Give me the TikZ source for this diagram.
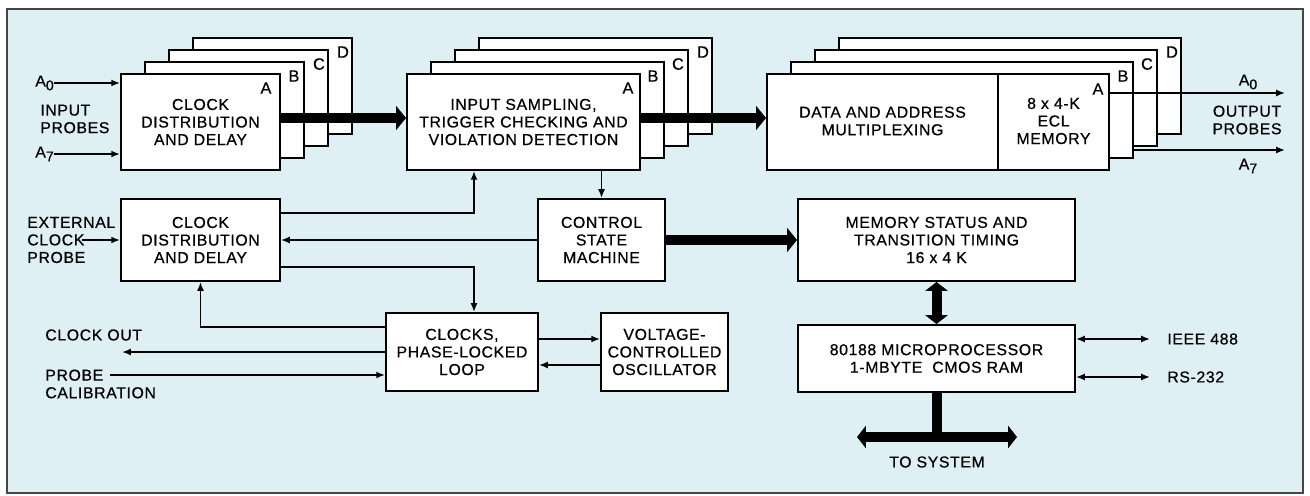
\documentclass[tikz,border=0pt]{standalone}
\usepackage{fontspec}
\setmainfont{Liberation Sans}[LetterSpace=4,FakeBold=0.6]
\usetikzlibrary{arrows.meta,calc}
\definecolor{paper}{RGB}{223,240,244}
\definecolor{framec}{RGB}{70,70,70}
\newcommand{\lowsub}[1]{\raisebox{-0.45ex}{\footnotesize #1}}
\begin{document}
\begin{tikzpicture}[x=0.02cm,y=-0.02cm,
  txt/.style={font=\fontsize{9}{10}\selectfont, align=center, inner sep=0},
  box/.style={draw, fill=white, line width=1.1pt, inner sep=0, txt},
  sz/.style 2 args={minimum width=#1*0.02cm, minimum height=#2*0.02cm},
  tag/.style={font=\fontsize{9.3}{10}\selectfont, inner sep=0},
  conn/.style={line width=1pt},
  arr/.style={conn, -{Latex[length=5pt,width=4pt]}},
  darr/.style={conn, {Latex[length=5pt,width=4pt]}-{Latex[length=5pt,width=4pt]}},
  bus/.style={line width=6.2pt, -{Triangle[length=5.7pt,width=13.6pt]}},
  dbus/.style={line width=5.7pt, {Triangle[length=5pt,width=12.5pt]}-{Triangle[length=5pt,width=12.5pt]}},
]
\useasboundingbox (0,0) rectangle (1310,496);
\fill[paper] (7,9) rectangle (1303,493);
\draw[framec, line width=1pt] (7,9) rectangle (1303,493);

% ---- stack 1
\node[box, sz={159}{96}] (b1d) at (272.5,86) {};
\node[tag] (t1d) at ($(b1d.north east)+(-10,15)$) {D};
\node[box, sz={159}{96}] (b1c) at (248.5,98) {};
\node[tag] (t1c) at ($(b1c.north east)+(-10,15)$) {C};
\node[box, sz={159}{96}] (b1b) at (224.5,110) {};
\node[tag] (t1b) at ($(b1b.north east)+(-11,15)$) {B};
\node[box, sz={159}{96}] (b1a) at (200.5,122) {CLOCK\\DISTRIBUTION\\AND DELAY};
\node[tag] (t1a) at ($(b1a.north east)+(-15,15)$) {A};

% ---- stack 2
\node[box, sz={233}{96}] (b2d) at (595.5,86) {};
\node[tag] (t2d) at ($(b2d.north east)+(-10,15)$) {D};
\node[box, sz={233}{96}] (b2c) at (571.5,98) {};
\node[tag] (t2c) at ($(b2c.north east)+(-11,15)$) {C};
\node[box, sz={233}{96}] (b2b) at (547.5,110) {};
\node[tag] (t2b) at ($(b2b.north east)+(-12,15)$) {B};
\node[box, sz={233}{96}] (b2a) at (523.5,122) {INPUT SAMPLING,\\TRIGGER CHECKING AND\\VIOLATION DETECTION};
\node[tag] (t2a) at ($(b2a.north east)+(-13,15)$) {A};

% ---- stack 3
\node[box, sz={342}{96}] (b3d) at (1010,86) {};
\node[tag] (t3d) at ($(b3d.north east)+(-10,15)$) {D};
\node[box, sz={342}{96}] (b3c) at (986,98) {};
\node[tag] (t3c) at ($(b3c.north east)+(-11,15)$) {C};
\node[box, sz={342}{96}] (b3b) at (962,110) {};
\node[tag] (t3b) at ($(b3b.north east)+(-11,15)$) {B};
\node[box, sz={342}{96}] (b3a) at (938,122) {};
\node[tag] (t3a) at ($(b3a.north east)+(-12,16)$) {A};
\draw[line width=1.1pt] (998,0 |- b3a.north) -- (998,0 |- b3a.south);
\node[txt] (mux) at (882.5,121) {DATA AND ADDRESS\\MULTIPLEXING};
\node[txt] (ecl) at (1053.5,121) {8 x 4-K\\ECL\\MEMORY};

% ---- lower boxes
\node[box, sz={159}{82}] (cd2) at (200.5,240) {CLOCK\\DISTRIBUTION\\AND DELAY};
\node[box, sz={127}{82}] (csm) at (601.5,240) {CONTROL\\STATE\\MACHINE};
\node[box, sz={277}{82}] (mem) at (936.5,240) {MEMORY STATUS AND\\TRANSITION TIMING\\16 x 4 K};
\node[box, sz={152}{78}] (pll) at (462,352) {CLOCKS,\\PHASE-LOCKED\\LOOP};
\node[box, sz={127}{78}] (vco) at (664.5,352) {VOLTAGE-\\CONTROLLED\\OSCILLATOR};
\node[box, sz={277}{67}] (cpu) at (936.5,358.5) {80188 MICROPROCESSOR\\1-MBYTE\ \ CMOS RAM};

% ---- outside labels
\node[txt, anchor=west] (ina0) at (35,83) {A\lowsub{0}};
\node[txt, anchor=west] (ina7) at (35,154) {A\lowsub{7}};
\node[txt, anchor=west, align=left] (inp) at (40,119) {INPUT\\PROBES};
\node[txt] (outa0) at (1248,82) {A\lowsub{0}};
\node[txt] (outp) at (1247,120) {OUTPUT\\PROBES};
\node[txt] (outa7) at (1248,166) {A\lowsub{7}};
\node[txt, anchor=west, align=left] (ext) at (27,240) {EXTERNAL\\CLOCK\\PROBE};
\node[txt, anchor=west] (clkout) at (45,335) {CLOCK OUT};
\node[txt, anchor=west, align=left] (pcal) at (45,384) {PROBE\\CALIBRATION};
\node[txt, anchor=west] (ieee) at (1167,339) {IEEE 488};
\node[txt, anchor=west] (rs) at (1167,377) {RS-232};
\node[txt] (tosys) at (937,462) {TO SYSTEM};

\coordinate (oa0) at (1285,93);
\coordinate (oa7) at (1285,150);
\coordinate (extin) at (82,240);
\coordinate (co) at (122,352);
\coordinate (pc) at (110,375);
\coordinate (ie) at (1150,339);
\coordinate (rsc) at (1150,377);
\coordinate (sysl) at (857,437);
\coordinate (sysr) at (1017,437);

% ---- thin connectors
\draw[arr] (ina0.east) -- (ina0.east -| b1a.west);
\draw[arr] (ina7.east) -- (ina7.east -| b1a.west);
\draw[arr] (b3a.east |- oa0) -- (oa0);
\draw[arr] (b3b.east |- oa7) -- (oa7);
\draw[arr] (extin) -- (cd2.west);
\draw[arr] (cd2.east |- 0,213) -| (474,0 |- b2a.south);
\draw[arr] (csm.west) -- (cd2.east);
\draw[arr] (cd2.east |- 0,267) -| (474,0 |- pll.north);
\draw[arr] (b2a.south -| csm.north) -- (csm.north);
\draw[arr] (pll.west |- 0,327) -| (cd2.south);
\draw[arr] (pll.west |- co) -- (co);
\draw[arr] (pc) -- (pll.west |- pc);
\draw[arr] (pll.east |- 0,339) -- (vco.west |- 0,339);
\draw[arr] (vco.west |- 0,365) -- (pll.east |- 0,365);
\draw[darr] (cpu.east |- ie) -- (ie);
\draw[darr] (cpu.east |- rsc) -- (rsc);

% ---- buses
\draw[bus] ($(b1a.east)+(0,-4)$) -- ($(b2a.west)+(0,-4)$);
\draw[bus] ($(b2a.east)+(0,-4)$) -- ($(b3a.west)+(0,-4)$);
\draw[bus] (csm.east) -- (mem.west);
\draw[dbus] (mem.south) -- (cpu.north);
\draw[line width=5.7pt] (cpu.south) -- (cpu.south |- sysl);
\draw[dbus] (sysl) -- (sysr);
\end{tikzpicture}
\end{document}
